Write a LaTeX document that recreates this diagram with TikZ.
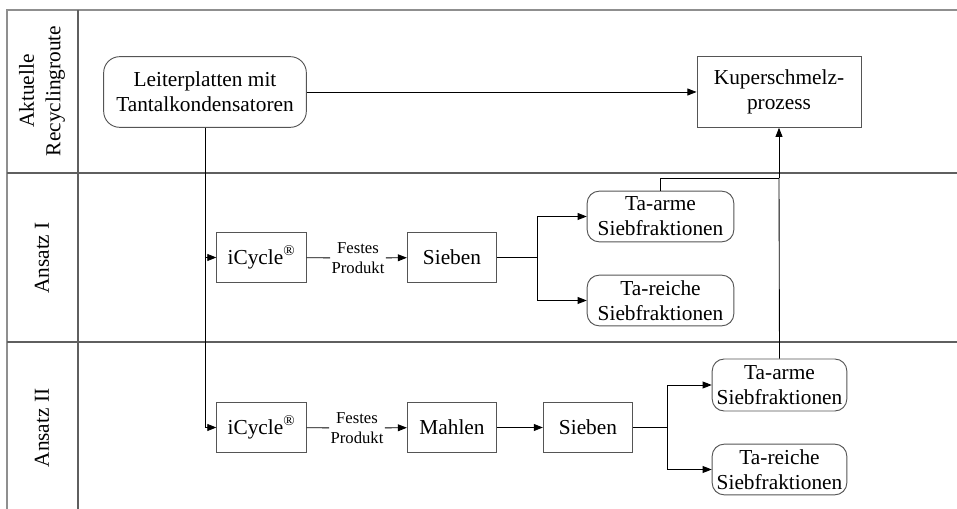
\documentclass[tikz,border=0pt]{standalone}
\usepackage{fontspec}
\setmainfont{Liberation Serif}
\usepackage{tikz}
\usetikzlibrary{arrows.meta,positioning,calc}
\definecolor{lanegray}{RGB}{95,95,95}
\definecolor{boxgray}{RGB}{85,85,85}
\tikzset{
  lane/.style={draw=lanegray,line width=1.3pt},
  box/.style={rectangle,draw=boxgray,line width=0.7pt,inner sep=0pt,align=center,font=\fontsize{16}{18.75}\selectfont},
  rbox/.style={box,rounded corners=9pt},
  lbl/.style={align=center,inner sep=1pt,font=\fontsize{12.5}{14.5}\selectfont},
  ttl/.style={rotate=90,align=center,font=\fontsize{16}{20}\selectfont},
  arr/.style={-{Triangle[length=6.8pt,width=5.2pt]},line width=0.65pt},
  ln/.style={line width=0.65pt},
}
\begin{document}
\begin{tikzpicture}[x=0.75pt,y=-0.75pt]
  \useasboundingbox (0,0) rectangle (957,509);
  % swimlanes
  \draw[lane,draw=lanegray!70] (957,10) -- (7,10) -- (7,509);
  \draw[lane] (78,10) -- (78,509);
  \draw[lane] (7,173) -- (957,173);
  \draw[lane] (7,342) -- (957,342);
  \node[ttl] (t0) at (42,91) {Aktuelle\\Recyclingroute};
  \node[ttl] (t1) at (42,258) {Ansatz I};
  \node[ttl] (t2) at (42,428) {Ansatz II};

  % current route
  \node[rbox,minimum width=152pt,minimum height=53pt,rounded corners=12pt] (lp) at (205,92) {Leiterplatten mit\\Tantalkondensatoren};
  \node[box,minimum width=123pt,minimum height=53pt] (kp) at (779,92) {Kuperschmelz-\\prozess};

  % approach I
  \node[box,minimum width=67pt,minimum height=38pt] (ic1) at (261.5,257.5) {iCycle\textsuperscript{\textregistered}};
  \node[lbl] (fp1) at (358,258) {Festes\\Produkt};
  \node[box,minimum width=67pt,minimum height=38pt] (sb1) at (452,257.5) {Sieben};
  \node[rbox,minimum width=110pt,minimum height=38pt] (ta1) at (660.5,216.5) {Ta-arme\\Siebfraktionen};
  \node[rbox,minimum width=110pt,minimum height=38pt] (tr1) at (660.5,300.5) {Ta-reiche\\Siebfraktionen};

  % approach II
  \node[box,minimum width=67pt,minimum height=38pt] (ic2) at (261.5,427.5) {iCycle\textsuperscript{\textregistered}};
  \node[lbl] (fp2) at (357,428) {Festes\\Produkt};
  \node[box,minimum width=67pt,minimum height=38pt] (ml2) at (452,427.5) {Mahlen};
  \node[box,minimum width=67pt,minimum height=38pt] (sb2) at (588,427.5) {Sieben};
  \node[rbox,minimum width=101pt,minimum height=39pt] (ta2) at (779.5,385) {Ta-arme\\Siebfraktionen};
  \node[rbox,minimum width=101pt,minimum height=38pt] (tr2) at (779.5,469.5) {Ta-reiche\\Siebfraktionen};

  \coordinate (br1) at (537,257.5);
  \coordinate (br2) at (667,427.5);
  \coordinate (j1) at (779,178);

  % connectors
  \draw[arr] (lp) -- (kp);
  \draw[arr] (lp.south) |- (ic1.west);
  \draw[arr] (lp.south) |- (ic2.west);
  \draw[ln] (ic1) -- (fp1);
  \draw[arr] (fp1) -- (sb1);
  \draw[ln] (sb1.east) -- (br1);
  \draw[arr] (br1) |- (ta1.west);
  \draw[arr] (br1) |- (tr1.west);
  \draw[ln] (ic2) -- (fp2);
  \draw[arr] (fp2) -- (ml2);
  \draw[arr] (ml2) -- (sb2);
  \draw[ln] (sb2.east) -- (br2);
  \draw[arr] (br2) |- (ta2.west);
  \draw[arr] (br2) |- (tr2.west);
  \draw[ln] (ta1.north) |- (j1);
  \draw[ln] (ta2.north) -- (j1);
  \draw[arr] (j1) -- (kp.south);
\end{tikzpicture}
\end{document}
